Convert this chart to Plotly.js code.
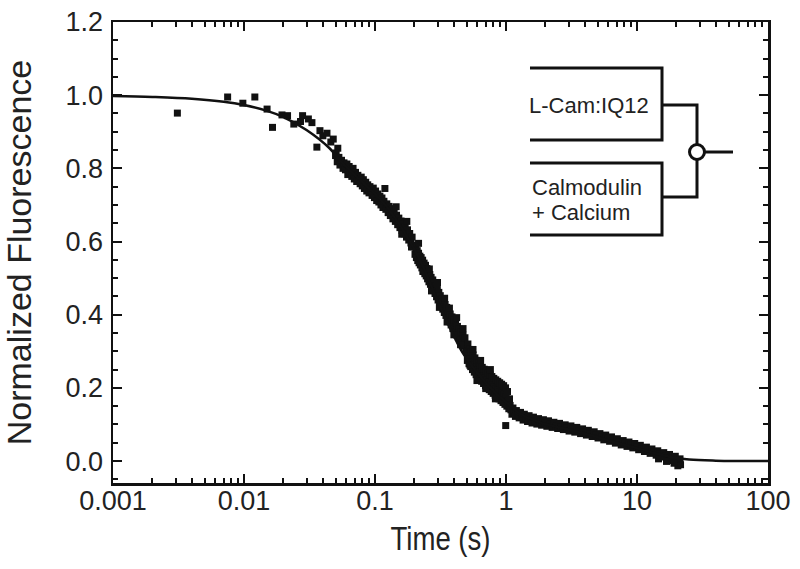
<!DOCTYPE html>
<html><head><meta charset="utf-8">
<script src="https://cdn.plot.ly/plotly-3.0.1.min.js"></script>
<style>html,body{margin:0;padding:0;background:#fff}#chart{width:800px;height:569px}</style>
</head><body><div id="chart"></div>
<script>
// ---- data ----
const timeS = [
0.0031,0.0075,0.0098,0.0121,0.0150,0.0165,0.0195,0.0215,0.024,0.027,0.028,0.031,0.033,0.036,0.038,0.040,0.043,0.046,0.048,0.050,0.052,0.054,
0.0505,0.0515,0.053,0.054,0.0555,0.057,0.058,0.0595,0.061,0.062,0.0635,0.065,0.0665,0.068,0.0695,0.071,0.0725,0.074,0.0755,0.077,0.0785,0.080,0.0815,0.083,
0.085,0.0865,0.088,0.090,0.0915,0.093,0.095,0.097,0.099,0.101,0.103,0.105,0.107,0.109,0.111,0.113,0.115,0.117,0.119,0.121,0.123,0.126,0.128,0.131,0.134,
0.137,0.140,0.143,0.146,0.149,0.152,0.155,0.158,0.161,0.164,0.167,0.170,0.174,0.177,0.181,0.184,0.188,0.192,0.196,
0.200,0.202,0.205,0.207,0.210,0.212,0.215,0.217,0.220,0.222,0.225,0.228,0.231,0.234,0.237,0.240,0.243,0.246,0.249,0.252,0.255,0.258,0.262,0.265,0.268,0.272,
0.276,0.279,0.283,0.287,0.291,0.295,0.299,0.303,0.307,0.311,0.315,0.320,0.324,0.329,0.333,0.338,0.343,0.348,0.353,0.358,0.364,0.369,0.375,0.381,0.387,0.393,
0.399,0.406,0.412,0.419,0.426,0.433,0.440,0.447,0.455,0.462,0.470,0.478,0.486,0.494,
0.502,0.507,0.512,0.517,0.522,0.527,0.533,0.538,0.544,0.549,0.555,0.561,0.567,0.573,0.579,0.585,0.591,0.598,0.604,0.611,0.617,0.624,0.631,0.638,0.645,0.652,
0.659,0.666,0.674,0.681,0.689,0.697,0.705,0.713,0.721,0.729,0.737,0.745,0.754,0.762,0.771,0.780,0.789,0.798,0.807,0.816,0.826,0.835,0.845,0.855,0.865,0.875,
0.885,0.895,0.905,0.916,0.926,0.937,0.948,0.959,0.970,0.981,0.992,1.003,1.015,1.027,1.039,1.051,1.063,1.075,0.995,
1.09,1.11,1.13,1.15,1.18,1.20,1.23,1.26,1.29,1.32,1.35,1.38,1.42,1.46,1.50,1.54,1.58,1.62,1.67,1.72,1.77,1.82,1.87,1.93,1.99,2.05,2.11,2.18,2.25,2.32,2.40,
2.48,2.56,2.65,2.74,2.83,2.93,3.03,3.13,3.24,3.35,3.47,3.59,3.71,3.84,3.97,4.11,4.25,4.40,4.55,4.71,4.87,5.04,5.21,5.39,5.58,5.77,5.97,6.18,6.39,6.61,6.84,
7.08,7.32,7.58,7.84,8.11,8.39,8.68,8.98,9.29,9.61,9.95,10.3,10.6,11.0,11.4,11.8,12.2,12.6,13.0,13.5,14.0,14.4,14.9,15.4,16.0,16.5,17.1,17.7,18.3,18.9,19.6,
20.2,20.9,21.3,21.5,20.5,19.2,16.8,14.6,
0.145,0.160,0.175,0.190,0.215,0.232,0.260,0.270,0.300,0.310,0.340,0.355,0.370,0.400,0.420,0.450,0.470,0.530,0.560,0.600,0.640,0.700,0.760,0.830
];
const fluor = [
0.951,0.995,0.978,0.995,0.962,0.912,0.946,0.944,0.921,0.928,0.944,0.935,0.925,0.858,0.903,0.889,0.896,0.872,0.880,0.835,0.855,0.820,
0.842,0.818,0.830,0.809,0.822,0.800,0.815,0.796,0.812,0.783,0.805,0.790,0.778,0.800,0.771,0.789,0.764,0.781,0.770,0.758,0.776,0.752,0.769,0.745,
0.762,0.738,0.755,0.733,0.750,0.741,0.726,0.746,0.720,0.738,0.712,0.730,0.708,0.724,0.700,0.719,0.693,0.710,0.745,0.688,0.703,0.679,0.696,0.671,0.690,
0.662,0.680,0.655,0.672,0.646,0.664,0.638,0.656,0.630,0.648,0.621,0.640,0.612,0.632,0.604,0.622,0.596,0.612,0.586,
0.590,0.565,0.580,0.556,0.575,0.548,0.568,0.542,0.560,0.536,0.556,0.528,0.549,0.520,0.541,0.512,0.535,0.506,0.526,0.498,0.519,0.490,0.510,0.483,0.502,0.474,
0.495,0.466,0.486,0.458,0.478,0.449,0.470,0.440,0.461,0.432,0.452,0.424,0.444,0.415,0.436,0.406,0.428,0.398,0.420,0.389,0.410,0.381,0.402,0.372,0.394,0.362,
0.386,0.354,0.377,0.345,0.368,0.338,0.360,0.330,0.352,0.322,0.344,0.314,0.337,0.306,
0.298,0.275,0.320,0.288,0.266,0.305,0.280,0.258,0.298,0.272,0.250,0.290,0.264,0.243,0.282,0.257,0.236,0.275,0.250,0.229,0.268,0.244,0.223,0.262,0.238,0.218,
0.256,0.233,0.212,0.251,0.228,0.206,0.246,0.222,0.200,0.241,0.217,0.195,0.236,0.212,0.190,0.231,0.207,0.185,0.226,0.203,0.180,0.222,0.198,0.175,0.218,0.194,
0.170,0.214,0.190,0.165,0.210,0.186,0.160,0.206,0.182,0.155,0.200,0.176,0.150,0.190,0.165,0.143,0.170,0.152,0.097,
0.140,0.128,0.145,0.132,0.122,0.138,0.127,0.118,0.133,0.121,0.112,0.128,0.117,0.108,0.124,0.113,0.104,0.120,0.110,0.101,0.116,0.106,0.098,0.113,0.103,0.095,
0.110,0.100,0.092,0.106,0.097,0.089,0.103,0.094,0.086,0.099,0.090,0.082,0.096,0.087,0.079,0.092,0.083,0.075,0.088,0.079,0.071,0.084,0.075,0.067,0.080,0.071,
0.063,0.075,0.066,0.058,0.071,0.062,0.054,0.066,0.057,0.049,0.061,0.052,0.044,0.056,0.048,0.040,0.052,0.043,0.036,0.048,0.039,0.031,0.043,0.034,0.026,0.038,
0.029,0.021,0.033,0.024,0.016,0.028,0.019,0.011,0.023,0.014,0.006,0.018,0.009,0.001,0.013,0.004,-0.004,0.006,-0.010,-0.013,-0.006,-0.001,0.006,
0.695,0.620,0.655,0.585,0.595,0.518,0.525,0.465,0.488,0.420,0.445,0.380,0.418,0.345,0.392,0.318,0.362,0.262,0.305,0.220,0.275,0.198,0.250,0.170
];
const fitTime  = [0.001,0.002,0.004,0.007,0.01,0.015,0.02,0.03,0.045,0.056,0.07,0.1,0.12,0.15,0.185,0.22,0.254,0.29,0.33,0.39,0.46,0.55,0.65,0.75,0.9,1.05,1.3,1.6,2,3,4,6.8,10,12.6,18,25,40,100];
const fitFluor = [0.998,0.995,0.990,0.982,0.973,0.957,0.940,0.905,0.855,0.815,0.782,0.730,0.700,0.652,0.600,0.550,0.500,0.450,0.405,0.350,0.300,0.260,0.228,0.202,0.175,0.155,0.128,0.113,0.101,0.086,0.075,0.051,0.035,0.025,0.011,0.004,0.001,0.000];

const xTickVals = [0.001,0.01,0.1,1,10,100];
const xTickText = ["0.001","0.01","0.1","1","10","100"];
const yTickVals = [0,0.2,0.4,0.6,0.8,1.0,1.2];
const yTickText = ["0.0","0.2","0.4","0.6","0.8","1.0","1.2"];
const labelTop = "L-Cam:IQ12";
const labelBottom1 = "Calmodulin";
const labelBottom2 = "+ Calcium";

// minor log ticks 2..9 per decade
const xMinor = [];
for (let d = -3; d < 2; d++) for (let k = 2; k <= 9; k++) xMinor.push(k * Math.pow(10, d));

// ---- layout geometry (pixels) ----
const W = 800, H = 569, L = 113, R = 768, T = 22, B = 483;
const px = x => (x - L) / (R - L);
const py = y => (B - y) / (B - T);
const ink = '#111';
const txt = '#222';
const font = 'Liberation Sans, Arial, Helvetica, sans-serif';

function seg(pts) {
  return {type:'path', xref:'paper', yref:'paper',
    path: pts.map((p,i)=>(i?'L':'M')+px(p[0]).toFixed(5)+','+py(p[1]).toFixed(5)).join(' '),
    line:{color:ink, width:3}};
}
const shapes = [
  seg([[530,68],[662,68],[662,140],[530,140]]),
  seg([[530,163],[662,163],[662,235],[530,235]]),
  seg([[662,105],[697,105],[697,145]]),
  seg([[662,197],[697,197],[697,160]]),
  seg([[704,152],[733,152]]),
  {type:'circle', xref:'paper', yref:'paper', x0:px(689.5), x1:px(704.5), y0:py(159.5), y1:py(144.5),
   line:{color:ink, width:3}, fillcolor:'#fff'}
];

const data = [
  {x: timeS, y: fluor, type:'scatter', mode:'markers',
   marker:{symbol:'square', size:7, color:ink}, hoverinfo:'x+y'},
  {x: fitTime, y: fitFluor, type:'scatter', mode:'lines',
   line:{color:ink, width:2.5, shape:'spline', smoothing:1}}
];

const axisCommon = {showline:true, linecolor:ink, linewidth:2.5, mirror:'allticks',
  ticks:'inside', tickcolor:ink, tickwidth:2, ticklen:9, showgrid:false, zeroline:false,
  tickfont:{family:font, size:27, color:txt}};

const layout = {
  width:W, height:H, showlegend:false,
  paper_bgcolor:'#fff', plot_bgcolor:'#fff',
  margin:{l:L, r:W-R, t:T, b:H-B},
  xaxis: Object.assign({}, axisCommon, {
    type:'log', range:[-3,2], tickmode:'array', tickvals:xTickVals, ticktext:xTickText,
    ticklabelstandoff:-8,
    minor:{tickmode:'array', tickvals:xMinor, ticks:'inside', ticklen:5, tickwidth:2, tickcolor:ink, showgrid:false},
    title:{text:'Time (s)', font:{family:font, size:33, color:txt}, standoff:12}
  }),
  yaxis: Object.assign({}, axisCommon, {
    range:[-0.06,1.2], tickmode:'array', tickvals:yTickVals, ticktext:yTickText,
    ticklabelstandoff:2,
    minor:{dtick:0.05, tick0:0, ticks:'inside', ticklen:5, tickwidth:2, tickcolor:ink, showgrid:false},
    title:{text:'Normalized Fluorescence', font:{family:font, size:34, color:txt}, standoff:27}
  }),
  shapes: shapes,
  annotations: [
    {xref:'paper', yref:'paper', x:px(589), y:py(105), text:labelTop, showarrow:false,
     xanchor:'center', yanchor:'middle', font:{family:font, size:22, color:txt}},
    {xref:'paper', yref:'paper', x:px(530), y:py(187), text:labelBottom1, showarrow:false,
     xanchor:'left', yanchor:'middle', font:{family:font, size:22, color:txt}},
    {xref:'paper', yref:'paper', x:px(530), y:py(213), text:labelBottom2, showarrow:false,
     xanchor:'left', yanchor:'middle', font:{family:font, size:22, color:txt}}
  ]
};

Plotly.newPlot('chart', data, layout, {staticPlot:true, displayModeBar:false}).then(function(gd){
  // the source figure's horizontal title is drawn slightly condensed
  const t = gd.querySelector('.g-xtitle text');
  if (t) { t.setAttribute('textLength', '100'); t.setAttribute('lengthAdjust', 'spacingAndGlyphs'); }
});
</script></body></html>
